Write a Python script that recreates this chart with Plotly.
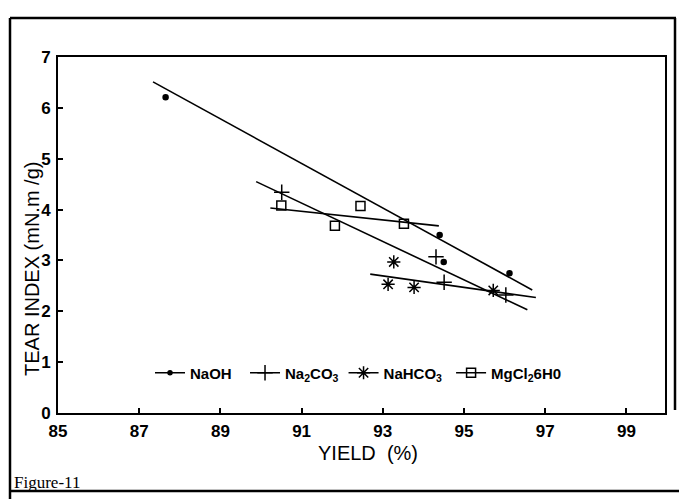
import plotly.graph_objects as go

# ---- data ----
naoh_x = [87.65, 94.40, 94.50, 96.12]
naoh_y = [6.21, 3.50, 2.97, 2.75]
na2co3_x = [90.51, 94.31, 94.51, 96.03]
na2co3_y = [4.34, 3.07, 2.57, 2.32]
nahco3_x = [93.27, 93.13, 93.77, 95.72]
nahco3_y = [2.97, 2.53, 2.47, 2.41]
mgcl2_x = [90.50, 91.82, 92.45, 93.52]
mgcl2_y = [4.08, 3.68, 4.07, 3.72]

# fitted regression lines (end points)
naoh_fit_x = [87.34, 96.68]
naoh_fit_y = [6.51, 2.42]
na2co3_fit_x = [89.88, 96.56]
na2co3_fit_y = [4.55, 2.03]
nahco3_fit_x = [92.69, 96.77]
nahco3_fit_y = [2.73, 2.27]
mgcl2_fit_x = [90.23, 94.38]
mgcl2_fit_y = [4.03, 3.68]

x_ticks = [85, 87, 89, 91, 93, 95, 97, 99]
y_ticks = [0, 1, 2, 3, 4, 5, 6, 7]

series_names = ["NaOH", "Na<sub>2</sub>CO<sub>3</sub>", "NaHCO<sub>3</sub>", "MgCl<sub>2</sub>6H0"]
series_pad = ["&nbsp;&nbsp;", "", "&nbsp;", ""]
series_symbols = ["circle", "cross-thin-open", "asterisk-open", "square-open"]
series_sizes = [5, 11, 11, 9]

# ---- layout geometry (pixels) ----
W, H = 679, 499
L, R, T, B = 58, 14, 57, 86
PW, PH = W - L - R, H - T - B


def px(xp):
    return (xp - L) / PW


def py(yp):
    return (H - B - yp) / PH


fig = go.Figure()

pts = [(naoh_x, naoh_y), (na2co3_x, na2co3_y), (nahco3_x, nahco3_y), (mgcl2_x, mgcl2_y)]
fits = [(naoh_fit_x, naoh_fit_y), (na2co3_fit_x, na2co3_fit_y),
        (nahco3_fit_x, nahco3_fit_y), (mgcl2_fit_x, mgcl2_fit_y)]

for (fx, fy) in fits:
    fig.add_trace(go.Scatter(x=fx, y=fy, mode="lines", line=dict(color="black", width=1.6),
                             showlegend=False, hoverinfo="skip"))

for (sx, sy), sym, sz in zip(pts, series_symbols, series_sizes):
    fig.add_trace(go.Scatter(x=sx, y=sy, mode="markers",
                             marker=dict(symbol=sym, size=sz, color="black",
                                         line=dict(color="black", width=1.5)),
                             showlegend=False))

# legend entries
for name, pad, sym, sz in zip(series_names, series_pad, series_symbols, series_sizes):
    fig.add_trace(go.Scatter(x=[None], y=[None], mode="lines+markers", name=name + pad,
                             line=dict(color="black", width=1.6),
                             marker=dict(symbol=sym, size=sz if sz > 6 else 4, color="black",
                                         line=dict(color="black", width=1.5))))

axis_font = dict(family="Liberation Sans, Arial, sans-serif", size=17, color="black", weight="bold")

fig.update_xaxes(range=[85, 99.95], tickvals=x_ticks, ticktext=[str(v) for v in x_ticks],
                 ticks="inside", ticklen=5, tickwidth=1.5, tickcolor="black",
                 showline=True, linewidth=2, linecolor="black", mirror=True,
                 showgrid=False, zeroline=False, tickfont=axis_font, ticklabelstandoff=2)
fig.update_yaxes(range=[0, 7], tickvals=y_ticks, ticktext=[str(v) for v in y_ticks],
                 ticks="inside", ticklen=5, tickwidth=1.5, tickcolor="black",
                 showline=True, linewidth=2, linecolor="black", mirror=True,
                 showgrid=False, zeroline=False, tickfont=axis_font, ticklabelstandoff=2)

title_font = dict(family="Liberation Sans, Arial, sans-serif", size=20, color="black")

annotations = [
    dict(text="TEAR INDEX (mN.m /g)", x=px(32), y=py(269), xref="paper", yref="paper",
         textangle=-90, showarrow=False, font=title_font, xanchor="center", yanchor="middle"),
    dict(text="YIELD  (%)", x=px(368), y=py(453), xref="paper", yref="paper",
         showarrow=False, font=title_font, xanchor="center", yanchor="middle"),
    dict(text="Figure-11", x=px(12), y=py(482), xref="paper", yref="paper",
         showarrow=False, font=dict(family="Liberation Serif, Times New Roman, serif", size=17, color="black"),
         xanchor="left", yanchor="middle"),
]

frame = dict(color="black", width=2.5)
shapes = [
    dict(type="line", xref="paper", yref="paper", x0=px(10), x1=px(10), y0=py(18), y1=py(499), line=frame),
    dict(type="line", xref="paper", yref="paper", x0=px(10), x1=px(676), y0=py(18), y1=py(18), line=frame),
    dict(type="line", xref="paper", yref="paper", x0=px(675), x1=px(675), y0=py(18), y1=py(410), line=frame),
    dict(type="line", xref="paper", yref="paper", x0=px(10), x1=px(679), y0=py(491), y1=py(491), line=frame),
]

fig.update_layout(
    width=W, height=H,
    margin=dict(l=L, r=R, t=T, b=B, autoexpand=False),
    paper_bgcolor="white", plot_bgcolor="white",
    showlegend=True,
    legend=dict(orientation="h", x=px(150), y=py(373), xanchor="left", yanchor="middle",
                bgcolor="rgba(0,0,0,0)", itemwidth=30,
                font=dict(family="Liberation Sans, Arial, sans-serif", size=15, color="black", weight="bold")),
    annotations=annotations,
    shapes=shapes,
)

fig.write_html("out.html", config={"displayModeBar": False},
               post_script="document.body.style.margin='0px';document.body.style.padding='0px';document.body.style.overflow='hidden';")
